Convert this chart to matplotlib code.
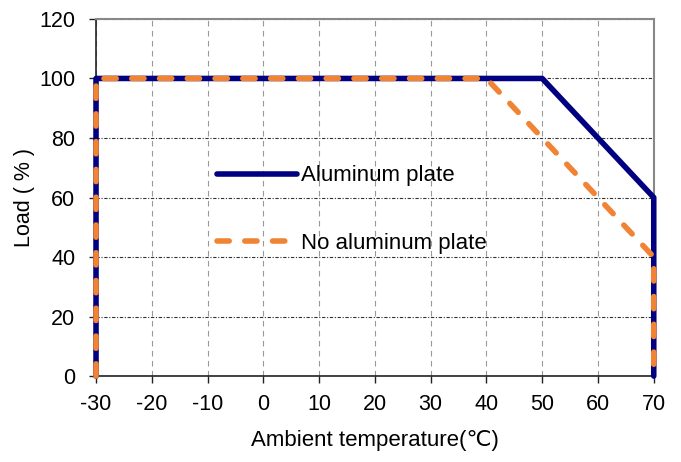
import matplotlib.pyplot as plt

plt.rcParams['font.family'] = ['Liberation Sans', 'DejaVu Sans']
plt.rcParams['axes.unicode_minus'] = False

# Derating curves
temp_al = [-30, -30, 50, 70, 70]
load_al = [0, 100, 100, 60, 0]
temp_no = [-30, -30, 40, 70, 70]
load_no = [0, 100, 100, 40, 0]

x_ticks = [-30, -20, -10, 0, 10, 20, 30, 40, 50, 60, 70]
y_ticks = [0, 20, 40, 60, 80, 100, 120]

fig = plt.figure(figsize=(6.81, 4.62), dpi=100)
ax = fig.add_axes([0.141, 0.186, 0.819, 0.773])

ax.plot(temp_al, load_al, color='#000080', lw=4, label='Aluminum plate',
        clip_on=False, zorder=3, solid_capstyle='round')
ax.plot(temp_no, load_no, color='#f08434', lw=4, ls=(0, (2.2, 2.8)),
        dash_capstyle='round', label='No aluminum plate', clip_on=False, zorder=4)

ax.set_xlim(-30, 70)
ax.set_ylim(0, 120)
ax.set_xticks(x_ticks)
ax.set_yticks(y_ticks)
ax.tick_params(labelsize=15.5, length=5, width=1, color='#222222')
ax.tick_params(axis='x', pad=8)
ax.tick_params(axis='y', pad=10)

ax.xaxis.grid(True, ls=(0, (5, 4)), color='#999999', lw=0.8)
ax.yaxis.grid(True, ls=(0, (3, 1.5, 1, 1.5)), color='#333333', lw=0.8)
ax.set_axisbelow(True)

for s in ['left', 'bottom']:
    ax.spines[s].set_color('#222222')
    ax.spines[s].set_linewidth(1.2)
for s in ['top', 'right']:
    ax.spines[s].set_color('#888888')
    ax.spines[s].set_linewidth(1.5)

ax.set_xlabel('Ambient temperature(℃)', fontsize=16, labelpad=11)
ax.set_ylabel('Load ( % )', fontsize=15.5, labelpad=3)

ax.legend(loc='upper left', bbox_to_anchor=(0.217, 0.59), frameon=False,
          fontsize=16, handlelength=3.6, handletextpad=0.2, labelspacing=2.1,
          borderpad=0, borderaxespad=0)

plt.savefig('out.png', dpi=100)
